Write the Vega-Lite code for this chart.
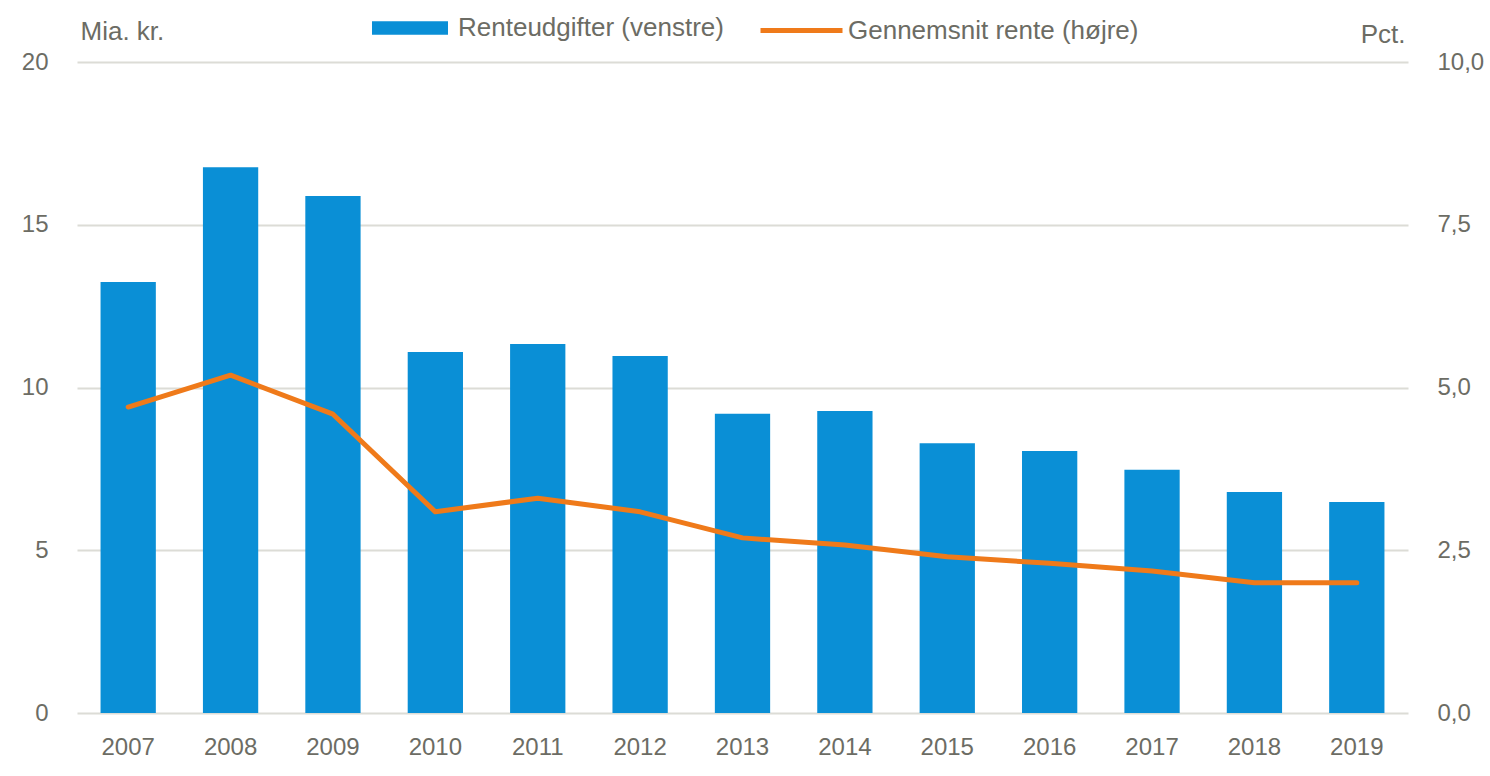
{
  "$schema": "https://vega.github.io/schema/vega-lite/v6.json",
  "autosize": "none",
  "width": 1331,
  "height": 651,
  "padding": {"left": 77, "top": 62, "right": 82, "bottom": 63},
  "background": "white",
  "config": {
    "view": {"stroke": null},
    "font": "Liberation Sans",
    "axis": {"labelFont": "Liberation Sans", "labelFontSize": 24, "labelColor": "#6c6c64", "titleFont": "Liberation Sans", "titleFontSize": 26, "titleColor": "#6c6c64", "titleFontWeight": "normal"},
    "legend": {"labelFont": "Liberation Sans", "labelFontSize": 26, "labelColor": "#6c6c64", "labelLimit": 500}
  },
  "data": {
    "values": [
      {"year": "2007", "udgifter": 13.24, "rente": 4.70},
      {"year": "2008", "udgifter": 16.77, "rente": 5.19},
      {"year": "2009", "udgifter": 15.88, "rente": 4.59},
      {"year": "2010", "udgifter": 11.09, "rente": 3.09},
      {"year": "2011", "udgifter": 11.34, "rente": 3.30},
      {"year": "2012", "udgifter": 10.97, "rente": 3.09},
      {"year": "2013", "udgifter": 9.19, "rente": 2.69},
      {"year": "2014", "udgifter": 9.28, "rente": 2.58},
      {"year": "2015", "udgifter": 8.29, "rente": 2.40},
      {"year": "2016", "udgifter": 8.05, "rente": 2.30},
      {"year": "2017", "udgifter": 7.47, "rente": 2.18},
      {"year": "2018", "udgifter": 6.79, "rente": 2.00},
      {"year": "2019", "udgifter": 6.48, "rente": 2.00}
    ]
  },
  "encoding": {
    "x": {
      "field": "year", "type": "nominal",
      "scale": {"paddingInner": 0.46, "paddingOuter": 0.23},
      "axis": {"title": null, "labelAngle": 0, "labelPadding": 22, "ticks": false, "domain": false, "grid": false}
    }
  },
  "layer": [
    {
      "mark": {"type": "bar", "color": "#0a8fd6"},
      "encoding": {
        "y": {
          "field": "udgifter", "type": "quantitative",
          "scale": {"domain": [0, 20]},
          "axis": {"values": [0, 5, 10, 15, 20], "title": "Mia. kr.", "titleAngle": 0, "titleAlign": "left", "titleBaseline": "middle", "titleX": 3, "titleY": -31, "labelPadding": 29, "ticks": false, "domain": false, "grid": true, "gridColor": "#dcdcd6", "gridWidth": 2}
        },
        "fill": {
          "datum": "Renteudgifter (venstre)",
          "scale": {"range": ["#0a8fd6"]},
          "legend": {"title": null, "orient": "none", "legendX": 295, "legendY": -72, "symbolType": "M-1,-0.18L1,-0.18L1,0.18L-1,0.18Z", "symbolSize": 5776, "symbolStrokeWidth": 0, "labelOffset": 10}
        }
      }
    },
    {
      "mark": {"type": "line", "color": "#ef7a1a", "strokeWidth": 5, "strokeCap": "round", "strokeJoin": "round"},
      "encoding": {
        "y": {
          "field": "rente", "type": "quantitative",
          "scale": {"domain": [0, 10]},
          "axis": {"orient": "right", "values": [0, 2.5, 5, 7.5, 10], "labelExpr": "replace(format(datum.value, '.1f'), '.', ',')", "title": "Pct.", "titleAngle": 0, "titleAlign": "right", "titleBaseline": "middle", "titleX": -3, "titleY": -28, "labelPadding": 29, "ticks": false, "domain": false, "grid": false}
        },
        "stroke": {
          "datum": "Gennemsnit rente (højre)",
          "scale": {"range": ["#ef7a1a"]},
          "legend": {"title": null, "orient": "none", "legendX": 681, "legendY": -75, "symbolType": "stroke", "symbolSize": 6724, "symbolStrokeWidth": 5, "labelOffset": 3}
        }
      }
    }
  ],
  "resolve": {"scale": {"y": "independent", "fill": "independent", "stroke": "independent"}}
}
